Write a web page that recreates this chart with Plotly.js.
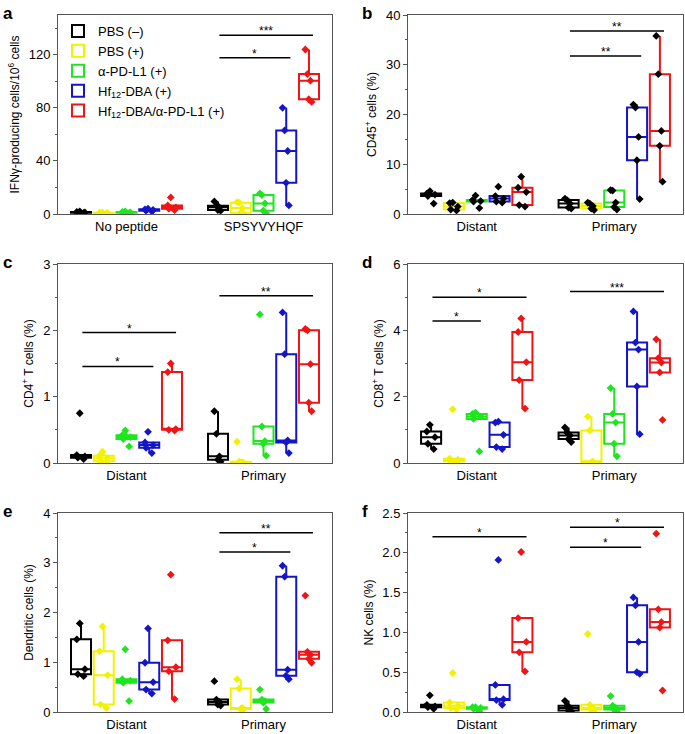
<!DOCTYPE html>
<html>
<head>
<meta charset="utf-8">
<script src="https://cdn.plot.ly/plotly-3.0.1.min.js"></script>
<style>html,body{margin:0;padding:0;background:#fff;}#chart{width:685px;height:734px;}</style>
</head>
<body>
<div id="chart"></div>
<script>
// ---------- data ----------
const groupNames = ['PBS (–)', 'PBS (+)', 'α-PD-L1 (+)', 'Hf<sub>12</sub>-DBA (+)', 'Hf<sub>12</sub>-DBA/α-PD-L1 (+)'];
const groupColors = ['#000000', '#f2f200', '#1ee61e', '#1414c8', '#f01414'];

const catsA = ['No peptide', 'SPSYVYHQF'];
const catsSite = ['Distant', 'Primary'];

// a: IFNγ-producing cells / 10^6 cells  (per group: PBS-, PBS+, aPD-L1, Hf12-DBA, Hf12-DBA/aPD-L1)
const ifn_NoPeptide = [[2.0, 1.5, 1.2, 1.0, 0.8], [1.2, 1.0, 0.8, 0.6, 0.5], [2.0, 1.5, 1.2, 1.0, 0.8], [4.0, 3.5, 3.0, 2.5, 2.0], [12.5, 6.5, 5.0, 4.0, 3.0]];
const ifn_Spsy = [[9.5, 6.3, 5.0, 3.0, 2.5], [9.0, 8.5, 4.5, 1.0, 0.5], [15.5, 14.3, 8.0, 2.5, 0.5], [80, 63, 47.5, 23.5, 6.5], [124, 105.5, 100.5, 86.5, 84.5]];

// b: CD45+ cells (%)
const cd45_Distant = [[4.6, 4.1, 3.9, 3.6, 2.1], [2.3, 2.2, 1.5, 0.9, 0.7], [3.7, 2.8, 2.6, 2.5, 1.2], [5.5, 3.6, 3.1, 2.5, 2.3], [7.5, 5.3, 4.4, 1.8, 1.5]];
const cd45_Primary = [[3.1, 2.8, 2.1, 1.3, 1.1], [2.3, 2.1, 1.6, 1.1, 0.8], [4.8, 4.7, 2.3, 1.4, 0.9], [22.0, 21.4, 15.5, 10.8, 3.0], [35.8, 28.1, 16.7, 13.7, 6.5]];

// c: CD4+ T cells (%)
const cd4_Distant = [[0.75, 0.12, 0.10, 0.08, 0.06], [0.17, 0.11, 0.07, 0.025, 0.01], [0.49, 0.42, 0.39, 0.36, 0.25], [0.47, 0.31, 0.27, 0.23, 0.15], [1.50, 1.37, 0.51, 0.50, 0.49]];
const cd4_Primary = [[0.78, 0.44, 0.10, 0.05, 0.02], [0.32, 0.02, 0.01, 0.01, 0.0], [2.24, 0.55, 0.33, 0.29, 0.11], [2.27, 1.64, 0.34, 0.31, 0.15], [2.02, 2.00, 1.49, 0.91, 0.78]];

// d: CD8+ T cells (%)
const cd8_Distant = [[1.15, 0.95, 0.78, 0.58, 0.42], [1.62, 0.13, 0.10, 0.05, 0.02], [1.52, 1.48, 1.40, 1.33, 0.35], [1.25, 1.22, 0.85, 0.48, 0.42], [4.36, 3.95, 3.04, 2.50, 1.64]];
const cd8_Primary = [[1.07, 0.92, 0.83, 0.72, 0.63], [1.40, 0.98, 0.04, 0.02, 0.01], [2.26, 1.48, 1.22, 0.58, 0.20], [4.57, 3.63, 3.42, 2.31, 0.87], [3.73, 3.16, 3.03, 2.73, 1.30]];

// e: Dendritic cells (%)
const dc_Distant = [[1.78, 1.46, 0.86, 0.76, 0.72], [1.72, 1.22, 0.74, 0.15, 0.08], [1.26, 0.66, 0.63, 0.59, 0.22], [1.68, 0.99, 0.60, 0.45, 0.37], [2.76, 1.44, 0.90, 0.82, 0.26]];
const dc_Primary = [[0.62, 0.25, 0.20, 0.15, 0.13], [0.66, 0.47, 0.08, 0.06, 0.05], [0.45, 0.25, 0.22, 0.19, 0.06], [2.94, 2.72, 0.85, 0.73, 0.66], [2.34, 1.21, 1.15, 1.07, 0.99]];

// f: NK cells (%)
const nk_Distant = [[0.21, 0.09, 0.07, 0.06, 0.04], [0.49, 0.12, 0.08, 0.05, 0.03], [0.06, 0.06, 0.05, 0.04, 0.01], [1.91, 0.34, 0.16, 0.15, 0.09], [2.01, 1.18, 0.88, 0.75, 0.51]];
const nk_Primary = [[0.14, 0.08, 0.05, 0.02, 0.01], [0.98, 0.09, 0.05, 0.03, 0.02], [0.20, 0.08, 0.05, 0.03, 0.01], [1.44, 1.34, 0.88, 0.50, 0.48], [2.24, 1.29, 1.13, 1.06, 0.27]];

const yTitles = ['IFNγ-producing cells/10<sup>6</sup> cells', 'CD45<sup>+</sup> cells (%)', 'CD4<sup>+</sup> T cells (%)', 'CD8<sup>+</sup> T cells (%)', 'Dendritic cells (%)', 'NK cells (%)'];
const panelLetters = ['a', 'b', 'c', 'd', 'e', 'f'];

// significance comparisons: panel, category index, from group, to group, bar level, label
const sigPanel = [0, 0, 1, 1, 2, 2, 2, 3, 3, 3, 4, 4, 5, 5, 5];
const sigCat = [1, 1, 1, 1, 0, 0, 1, 0, 0, 1, 1, 1, 0, 1, 1];
const sigFrom = [0, 0, 0, 0, 0, 0, 0, 0, 0, 0, 0, 0, 0, 0, 0];
const sigTo = [3, 4, 3, 4, 3, 4, 4, 2, 4, 4, 3, 4, 4, 3, 4];
const sigLevel = [117.7, 134.8, 31.75, 36.8, 1.455, 1.967, 2.52, 4.28, 5.0, 5.17, 3.216, 3.605, 2.203, 2.069, 2.32];
const sigLabel = ['*', '***', '**', '**', '*', '*', '**', '*', '*', '***', '*', '**', '*', '*', '*'];

// ---------- build ----------
const panels = [
  {cats: catsA, vals: [ifn_NoPeptide, ifn_Spsy], range: [0, 150], dtick: 40, minor: 20, fmt: ''},
  {cats: catsSite, vals: [cd45_Distant, cd45_Primary], range: [0, 40], dtick: 10, minor: 5, fmt: '', pointColor: '#000000'},
  {cats: catsSite, vals: [cd4_Distant, cd4_Primary], range: [0, 3], dtick: 1, minor: 0.5, fmt: ''},
  {cats: catsSite, vals: [cd8_Distant, cd8_Primary], range: [0, 6], dtick: 2, minor: 1, fmt: ''},
  {cats: catsSite, vals: [dc_Distant, dc_Primary], range: [0, 4], dtick: 1, minor: 0.5, fmt: ''},
  {cats: catsSite, vals: [nk_Distant, nk_Primary], range: [0, 2.5], dtick: 0.5, minor: 0.25, fmt: '.1f'}
];

const W = 685, H = 734;
const xPx = [[58, 332], [408, 683]];
const yPx = [[15, 214], [264, 463], [513, 712]];
const font = 'Liberation Sans, Arial, Helvetica, sans-serif';
const BOXGAP = 0.17, BOXGROUPGAP = 0.12;

const traces = [];
const layout = {
  width: W, height: H,
  margin: {l: 0, r: 0, t: 0, b: 0},
  paper_bgcolor: '#ffffff', plot_bgcolor: '#ffffff',
  font: {family: font, size: 13, color: '#000'},
  boxmode: 'group', boxgap: BOXGAP, boxgroupgap: BOXGROUPGAP,
  showlegend: true,
  legend: {x: 58 / W, y: 1 - 16 / H, xanchor: 'left', yanchor: 'top', bgcolor: 'rgba(0,0,0,0)',
           font: {family: font, size: 13}, tracegroupgap: 0, itemwidth: 30},
  shapes: [], annotations: []
};

panels.forEach((p, pi) => {
  const col = pi % 2, row = Math.floor(pi / 2);
  const sfx = pi === 0 ? '' : String(pi + 1);
  const xa = 'xaxis' + sfx, ya = 'yaxis' + sfx;
  layout[xa] = {
    domain: [xPx[col][0] / W, xPx[col][1] / W],
    anchor: 'y' + sfx, type: 'category', categoryorder: 'array', categoryarray: p.cats,
    range: [-0.5, 1.5], showline: true, mirror: true, linecolor: '#555', linewidth: 1,
    ticks: '', showgrid: false, zeroline: false, tickfont: {family: font, size: 13}
  };
  layout[ya] = {
    domain: [1 - yPx[row][1] / H, 1 - yPx[row][0] / H],
    anchor: 'x' + sfx, range: p.range, dtick: p.dtick, tick0: 0, tickformat: p.fmt,
    showline: true, mirror: true, linecolor: '#555', linewidth: 1,
    ticks: 'outside', ticklen: 4, tickcolor: '#555', showgrid: false, zeroline: false,
    minor: {dtick: p.minor, ticks: 'outside', ticklen: 2.5, tickcolor: '#555'},
    tickfont: {family: font, size: 13},
    title: {text: yTitles[pi], font: {family: font, size: 12}, standoff: 6}
  };
  groupNames.forEach((gname, gi) => {
    const xs = [], ys = [];
    p.cats.forEach((c, ci) => {
      p.vals[ci][gi].forEach(v => { xs.push(c); ys.push(v); });
    });
    traces.push({
      type: 'box', name: gname, legendgroup: 'g' + gi, showlegend: pi === 0,
      alignmentgroup: 'panel' + pi, offsetgroup: 'grp' + gi,
      x: xs, y: ys, xaxis: 'x' + sfx, yaxis: 'y' + sfx,
      boxpoints: 'all', jitter: 0.5, pointpos: 0, quartilemethod: 'inclusive',
      whiskerwidth: 0, fillcolor: 'rgba(255,255,255,0)',
      line: {color: groupColors[gi], width: 2},
      marker: {symbol: 'diamond', size: 6, color: p.pointColor || groupColors[gi], line: {width: 0}},
      hoverinfo: 'skip'
    });
  });
  // panel letter
  layout.annotations.push({
    xref: 'paper', yref: 'paper', x: (col === 0 ? 1 : 360) / W, y: 1 - (yPx[row][0] - 13) / H,
    xanchor: 'left', yanchor: 'top', text: '<b>' + panelLetters[pi] + '</b>', showarrow: false,
    font: {family: font, size: 17, color: '#000'}
  });
});

function groupOffset(i) {
  const gw = 1 - BOXGAP;
  return -gw / 2 + gw / 5 * (i + 0.5);
}

sigPanel.forEach((pi, k) => {
  const sfx = pi === 0 ? '' : String(pi + 1);
  const x0 = sigCat[k] + groupOffset(sigFrom[k]) + 0.01;
  const x1 = sigCat[k] + groupOffset(sigTo[k]) + 0.03;
  layout.shapes.push({type: 'line', xref: 'x' + sfx, yref: 'y' + sfx, x0: x0, x1: x1,
    y0: sigLevel[k], y1: sigLevel[k], line: {color: '#000', width: 1.5}});
  layout.annotations.push({xref: 'x' + sfx, yref: 'y' + sfx, x: (x0 + x1) / 2, y: sigLevel[k],
    text: sigLabel[k], showarrow: false, xanchor: 'center', yanchor: 'bottom', yshift: -5,
    font: {family: font, size: 12, color: '#000'}});
});

Plotly.newPlot('chart', traces, layout, {staticPlot: true, displayModeBar: false});
</script>
</body>
</html>
